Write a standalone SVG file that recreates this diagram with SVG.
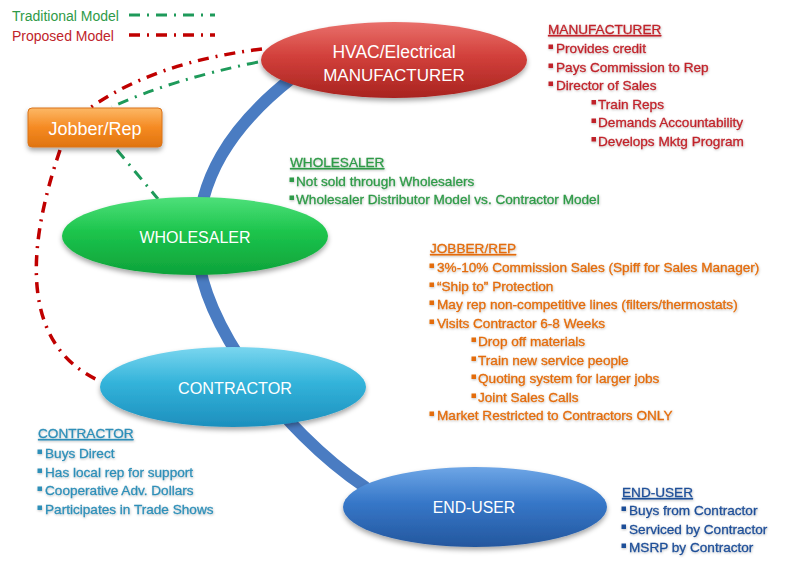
<svg xmlns="http://www.w3.org/2000/svg" width="800" height="561" viewBox="0 0 800 561">
<defs>
<linearGradient id="gRed" x1="0" y1="0" x2="0" y2="1"><stop offset="0" stop-color="#e9706b"/><stop offset="0.45" stop-color="#d2403b"/><stop offset="1" stop-color="#a82320"/></linearGradient>
<linearGradient id="gGreen" x1="0" y1="0" x2="0" y2="1"><stop offset="0" stop-color="#4ee07a"/><stop offset="0.45" stop-color="#1cc44c"/><stop offset="1" stop-color="#0ea23a"/></linearGradient>
<linearGradient id="gCyan" x1="0" y1="0" x2="0" y2="1"><stop offset="0" stop-color="#7ad6ef"/><stop offset="0.45" stop-color="#33b3da"/><stop offset="1" stop-color="#1d8fbd"/></linearGradient>
<linearGradient id="gBlue" x1="0" y1="0" x2="0" y2="1"><stop offset="0" stop-color="#6ea6e6"/><stop offset="0.45" stop-color="#3677c8"/><stop offset="1" stop-color="#24579e"/></linearGradient>
<linearGradient id="gOrange" x1="0" y1="0" x2="0" y2="1"><stop offset="0" stop-color="#fcb866"/><stop offset="0.5" stop-color="#f58a22"/><stop offset="1" stop-color="#e0740f"/></linearGradient>
<filter id="sh" x="-10%" y="-20%" width="120%" height="150%"><feDropShadow dx="0" dy="3" stdDeviation="2.5" flood-color="#000" flood-opacity="0.35"/></filter>
<filter id="tsh" x="-5%" y="-20%" width="110%" height="140%"><feDropShadow dx="0.5" dy="1" stdDeviation="0.8" flood-color="#000" flood-opacity="0.25"/></filter>
</defs>
<style>
text{font-family:"Liberation Sans",Arial,sans-serif;}
.node{fill:#fff;text-anchor:middle;}
.t{font-size:13.6px;stroke-width:0.3px;}
.h{text-decoration:underline;}
.man{fill:#c0242b;stroke:#c0242b;}
.who{fill:#2f9a48;stroke:#2f9a48;}
.job{fill:#e36c0a;stroke:#e36c0a;}
.con{fill:#2f8fb8;stroke:#2f8fb8;}
.end{fill:#1f4f98;stroke:#1f4f98;}
.trad{fill:none;stroke:#1e9a5a;stroke-width:3;stroke-dasharray:11 7 2 7;}
.prop{fill:none;stroke:#c00000;stroke-width:3.5;stroke-dasharray:11 7 2 7;}
</style>

<g id="legend">
<text x="12" y="21" font-size="14" fill="#2f9a48">Traditional Model</text>
<text x="12" y="41" font-size="14" fill="#c0242b">Proposed Model</text>
<line class="trad" x1="129" y1="15" x2="215" y2="15"/>
<line class="prop" x1="129" y1="35" x2="215" y2="35"/>
</g>

<g id="connectors">
<path d="M 292 78 C 232 125, 195 180, 198 250 C 200 320, 280 430, 365 487" fill="none" stroke="#4a7cc2" stroke-width="12" stroke-linecap="round"/>
<path class="trad" d="M 258 62 Q 170 80, 112 107"/>
<path class="trad" d="M 117 150 Q 138 175, 158 199"/>
<path class="prop" d="M 262 49 Q 155 62, 90 108"/>
<path class="prop" d="M 60 150 C 38 215, 5 340, 102 382"/>
</g>

<g id="manufacturer">
<ellipse cx="394" cy="60" rx="133" ry="38" fill="url(#gRed)" filter="url(#sh)"/>
<text class="node" x="394" y="58" font-size="17.5">HVAC/Electrical</text>
<text class="node" x="394" y="81" font-size="17">MANUFACTURER</text>
</g>

<g id="jobber">
<rect x="28" y="108" width="134" height="39" rx="4" fill="url(#gOrange)" stroke="#d9731a" stroke-width="1" filter="url(#sh)"/>
<text class="node" x="95" y="135" font-size="18">Jobber/Rep</text>
</g>

<g id="wholesaler">
<ellipse cx="195" cy="236" rx="133" ry="39" fill="url(#gGreen)" filter="url(#sh)"/>
<text class="node" x="195" y="243" font-size="16">WHOLESALER</text>
</g>

<g id="contractor">
<ellipse cx="233" cy="387" rx="133" ry="40" fill="url(#gCyan)" filter="url(#sh)"/>
<text class="node" x="235" y="394" font-size="16.2">CONTRACTOR</text>
</g>

<g id="enduser">
<ellipse cx="475" cy="507" rx="132" ry="40" fill="url(#gBlue)" filter="url(#sh)"/>
<text class="node" x="474" y="513" font-size="15.8">END-USER</text>
</g>

<g id="notes-manufacturer" class="man" filter="url(#tsh)">
<text class="t h" x="548" y="34">MANUFACTURER</text>
<rect x="549" y="45" width="3.5" height="3.5"/><text class="t" x="556" y="53">Provides credit</text>
<rect x="549" y="64" width="3.5" height="3.5"/><text class="t" x="556" y="72">Pays Commission to Rep</text>
<rect x="549" y="82" width="3.5" height="3.5"/><text class="t" x="556" y="90">Director of Sales</text>
<rect x="592" y="100.5" width="3.5" height="3.5"/><text class="t" x="598" y="108.5">Train Reps</text>
<rect x="592" y="119" width="3.5" height="3.5"/><text class="t" x="598" y="127">Demands Accountability</text>
<rect x="592" y="137.5" width="3.5" height="3.5"/><text class="t" x="598" y="145.5">Develops Mktg Program</text>
</g>

<g id="notes-wholesaler" class="who" filter="url(#tsh)">
<text class="t h" x="290" y="167">WHOLESALER</text>
<rect x="290" y="178" width="3.5" height="3.5"/><text class="t" x="296" y="185.5">Not sold through Wholesalers</text>
<rect x="290" y="196" width="3.5" height="3.5"/><text class="t" x="296" y="204">Wholesaler Distributor Model vs. Contractor Model</text>
</g>

<g id="notes-jobber" class="job" filter="url(#tsh)">
<text class="t h" x="430" y="253">JOBBER/REP</text>
<rect x="430" y="264" width="3.5" height="3.5"/><text class="t" x="437" y="272">3%-10% Commission Sales (Spiff for Sales Manager)</text>
<rect x="430" y="283" width="3.5" height="3.5"/><text class="t" x="437" y="290.5">“Ship to” Protection</text>
<rect x="430" y="301" width="3.5" height="3.5"/><text class="t" x="437" y="309">May rep non-competitive lines (filters/thermostats)</text>
<rect x="430" y="320" width="3.5" height="3.5"/><text class="t" x="437" y="327.5">Visits Contractor 6-8 Weeks</text>
<rect x="472" y="338" width="3.5" height="3.5"/><text class="t" x="478" y="346">Drop off materials</text>
<rect x="472" y="357" width="3.5" height="3.5"/><text class="t" x="478" y="364.5">Train new service people</text>
<rect x="472" y="375" width="3.5" height="3.5"/><text class="t" x="478" y="383">Quoting system for larger jobs</text>
<rect x="472" y="394" width="3.5" height="3.5"/><text class="t" x="478" y="401.5">Joint Sales Calls</text>
<rect x="430" y="412" width="3.5" height="3.5"/><text class="t" x="437" y="420">Market Restricted to Contractors ONLY</text>
</g>

<g id="notes-contractor" class="con" filter="url(#tsh)">
<text class="t h" x="38" y="438">CONTRACTOR</text>
<rect x="38" y="450" width="3.5" height="3.5"/><text class="t" x="45" y="458">Buys Direct</text>
<rect x="38" y="469" width="3.5" height="3.5"/><text class="t" x="45" y="476.5">Has local rep for support</text>
<rect x="38" y="487" width="3.5" height="3.5"/><text class="t" x="45" y="495">Cooperative Adv. Dollars</text>
<rect x="38" y="506" width="3.5" height="3.5"/><text class="t" x="45" y="513.5">Participates in Trade Shows</text>
</g>

<g id="notes-enduser" class="end" filter="url(#tsh)">
<text class="t h" x="622" y="497">END-USER</text>
<rect x="622" y="507" width="3.5" height="3.5"/><text class="t" x="629" y="515">Buys from Contractor</text>
<rect x="622" y="525" width="3.5" height="3.5"/><text class="t" x="629" y="533.5">Serviced by Contractor</text>
<rect x="622" y="544" width="3.5" height="3.5"/><text class="t" x="629" y="552">MSRP by Contractor</text>
</g>
</svg>
